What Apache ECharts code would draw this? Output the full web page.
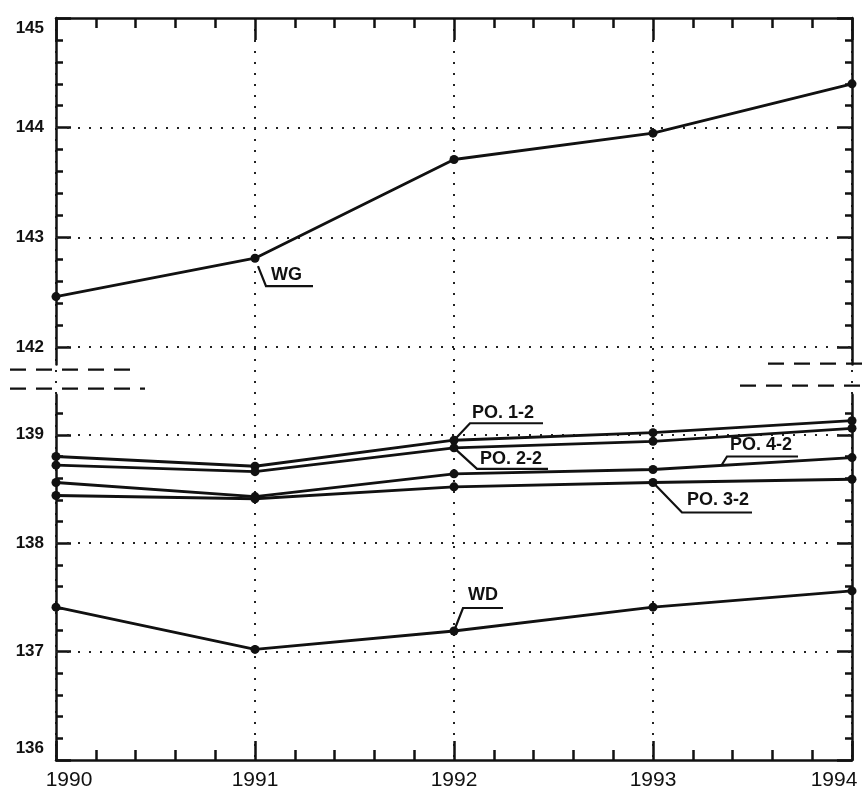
<!DOCTYPE html>
<html>
<head>
<meta charset="utf-8">
<style>
html,body{margin:0;padding:0;background:#fff;}
#chart{width:866px;height:791px;}
</style>
<script src="https://cdn.jsdelivr.net/npm/echarts@6/dist/echarts.min.js"></script>
</head>
<body>
<div id="chart"></div>
<script>
// ---- data ----
const years = [1990, 1991, 1992, 1993, 1994];
const wg   = [142.46, 142.81, 143.71, 143.95, 144.40];
const po12 = [138.80, 138.71, 138.95, 139.02, 139.13];
const po22 = [138.72, 138.66, 138.88, 138.94, 139.06];
const po42 = [138.56, 138.43, 138.64, 138.68, 138.79];
const po32 = [138.44, 138.41, 138.52, 138.56, 138.59];
const wd   = [137.41, 137.02, 137.19, 137.41, 137.56];

// ---- axes / ticks ----
const upperRange = [141.84, 145];
const lowerRange = [136, 139.37];
const upperMajorTicks = [142, 143, 144, 145];
const upperMinorTicks = [142.2, 142.4, 142.6, 142.8, 143.2, 143.4, 143.6, 143.8, 144.2, 144.4, 144.6, 144.8];
const lowerMajorTicks = [136, 137, 138, 139];
const lowerMinorTicks = [136.2, 136.4, 136.6, 136.8, 137.2, 137.4, 137.6, 137.8, 138.2, 138.4, 138.6, 138.8, 139.2];
const upperGridLines = [142, 143, 144];
const lowerGridLines = [137, 138, 139];

const FONT = "'Liberation Sans', Arial, Helvetica, sans-serif";
const INK = '#111';
const AXW = 2.5;
const dotted = { color: '#222', width: 2, type: [2, 9] };

function pairs(ys) { return years.map((x, i) => [x, ys[i]]); }

const gridPos = { left: 56, right: 14 };

const yLabelBase = { fontFamily: FONT, fontWeight: 'bold', fontSize: 17, color: INK };

function yAx(grid, range, pos, ticks, len, withLine, labels) {
  return {
    type: 'value', gridIndex: grid, position: pos, min: range[0], max: range[1],
    axisLine: { show: withLine, onZero: false, lineStyle: { color: INK, width: AXW } },
    axisTick: { show: true, inside: true, length: len, customValues: ticks, lineStyle: { color: INK, width: AXW } },
    axisLabel: labels ? {
      show: true, customValues: ticks, fontFamily: FONT, fontWeight: 'bold', fontSize: 17, color: INK, margin: 12,
      formatter: function (v) {
        if (v === upperMajorTicks[upperMajorTicks.length - 1]) return '{down|' + v + '}';
        if (v === lowerMajorTicks[0]) return '{up|' + v + '}';
        return String(v);
      },
      rich: {
        down: Object.assign({ padding: [21, 0, 0, 0] }, yLabelBase),
        up: Object.assign({ padding: [0, 0, 24, 0] }, yLabelBase)
      }
    } : { show: false },
    splitLine: { show: false }
  };
}

const option = {
  animation: false,
  backgroundColor: '#fff',
  grid: [
    { left: gridPos.left, right: gridPos.right, top: 18, bottom: 29 },
    { left: gridPos.left, right: gridPos.right, top: 18, height: 346.6 },
    { left: gridPos.left, right: gridPos.right, top: 394.7, bottom: 29 }
  ],
  xAxis: [
    { type: 'value', gridIndex: 0, min: 1990, max: 1994, interval: 1,
      axisLine: { show: false }, axisTick: { show: false }, axisLabel: { show: false },
      splitLine: { show: true, lineStyle: dotted } },
    { type: 'value', gridIndex: 1, position: 'top', min: 1990, max: 1994, interval: 1,
      axisLine: { show: true, onZero: false, lineStyle: { color: INK, width: AXW } },
      axisTick: { show: true, inside: true, length: 22, lineStyle: { color: INK, width: AXW } },
      minorTick: { show: true, splitNumber: 5, length: 10, lineStyle: { color: INK, width: AXW } },
      axisLabel: { show: false }, splitLine: { show: false } },
    { type: 'value', gridIndex: 2, position: 'bottom', min: 1990, max: 1994, interval: 1,
      axisLine: { show: true, onZero: false, lineStyle: { color: INK, width: AXW } },
      axisTick: { show: true, inside: true, length: 19, lineStyle: { color: INK, width: AXW } },
      minorTick: { show: true, splitNumber: 5, length: 10, lineStyle: { color: INK, width: AXW } },
      axisLabel: { show: true, fontFamily: FONT, fontSize: 21, color: INK, margin: 10,
        formatter: function (v) {
          if (v === years[0]) return '{first|' + v + '}';
          if (v === years[years.length - 1]) return '{last|' + v + '}';
          return String(v);
        },
        rich: {
          first: { fontFamily: FONT, fontSize: 21, color: INK, padding: [0, 0, 0, 26] },
          last: { fontFamily: FONT, fontSize: 21, color: INK, padding: [0, 36, 0, 0] }
        }
      },
      splitLine: { show: false } }
  ],
  yAxis: [
    { type: 'value', gridIndex: 0, min: 0, max: 1, show: false },
    yAx(1, upperRange, 'left', upperMajorTicks, 15, true, true),
    yAx(1, upperRange, 'left', upperMinorTicks, 7, false, false),
    yAx(1, upperRange, 'right', upperMajorTicks, 15, true, false),
    yAx(1, upperRange, 'right', upperMinorTicks, 7, false, false),
    yAx(2, lowerRange, 'left', lowerMajorTicks, 15, true, true),
    yAx(2, lowerRange, 'left', lowerMinorTicks, 7, false, false),
    yAx(2, lowerRange, 'right', lowerMajorTicks, 15, true, false),
    yAx(2, lowerRange, 'right', lowerMinorTicks, 7, false, false)
  ],
  series: []
};

function lineSeries(name, ys, xi, yi, gridLines) {
  const s = {
    name: name, type: 'line', xAxisIndex: xi, yAxisIndex: yi, data: pairs(ys),
    symbol: 'circle', symbolSize: 9, itemStyle: { color: INK },
    lineStyle: { color: INK, width: 2.8 }, z: 5
  };
  if (gridLines) {
    s.markLine = {
      silent: true, symbol: ['none', 'none'], label: { show: false },
      lineStyle: dotted, z: 1,
      data: gridLines.map(v => ({ yAxis: v }))
    };
  }
  return s;
}

option.series = [
  lineSeries('WG', wg, 1, 1, upperGridLines),
  lineSeries('PO. 1-2', po12, 2, 5, lowerGridLines),
  lineSeries('PO. 2-2', po22, 2, 5, null),
  lineSeries('PO. 4-2', po42, 2, 5, null),
  lineSeries('PO. 3-2', po32, 2, 5, null),
  lineSeries('WD', wd, 2, 5, null)
];

const chart = echarts.init(document.getElementById('chart'), null, { renderer: 'canvas' });
chart.setOption(option);

// ---- leader-line labels, anchored to data points ----
const callouts = [
  { text: 'WG',      series: 0, x: years[1], y: wg[1],   path: [[3, 8], [11, 28], [58, 28]],  tx: 16, ty: 17 },
  { text: 'PO. 1-2', series: 1, x: years[2], y: po12[2], path: [[0, 0], [16, -17], [89, -17]], tx: 18, ty: -27 },
  { text: 'PO. 2-2', series: 2, x: years[2], y: po22[2], path: [[0, 0], [23, 21], [94, 21]],   tx: 26, ty: 11 },
  { text: 'PO. 4-2', series: 3, x: years[3], y: po42[3], path: [[69, -5], [74, -13], [145, -13]], tx: 77, ty: -24 },
  { text: 'PO. 3-2', series: 4, x: years[3], y: po32[3], path: [[0, 0], [29, 30], [99, 30]],   tx: 34, ty: 18 },
  { text: 'WD',      series: 5, x: years[2], y: wd[2],   path: [[0, 0], [9, -23], [49, -23]],  tx: 14, ty: -36 }
];

const graphics = [];
callouts.forEach(c => {
  const p = chart.convertToPixel({ seriesIndex: c.series }, [c.x, c.y]);
  graphics.push({
    type: 'polyline', silent: true, z: 10,
    shape: { points: c.path.map(d => [p[0] + d[0], p[1] + d[1]]) },
    style: { stroke: INK, lineWidth: 2.2, fill: null }
  });
  graphics.push({
    type: 'text', silent: true, z: 10, x: p[0] + c.tx, y: p[1] + c.ty,
    style: { text: c.text, fill: INK, font: 'bold 18px ' + FONT, verticalAlign: 'middle', align: 'left' }
  });
});

// ---- axis-break marks ----
const upperEnd = chart.convertToPixel({ yAxisIndex: 1 }, upperRange[0]);
const lowerStart = chart.convertToPixel({ yAxisIndex: 5 }, lowerRange[1]);
const breakMarks = [
  { x1: 10, x2: 140, y: upperEnd + 5 },
  { x1: 10, x2: 145, y: lowerStart - 6 },
  { x1: 768, x2: 866, y: upperEnd - 1 },
  { x1: 740, x2: 866, y: lowerStart - 9 }
];
breakMarks.forEach(b => {
  graphics.push({
    type: 'line', silent: true, z: 10,
    shape: { x1: b.x1, y1: b.y, x2: b.x2, y2: b.y },
    style: { stroke: INK, lineWidth: 2.2, lineDash: [16, 10] }
  });
});

chart.setOption({ graphic: graphics });
</script>
</body>
</html>
